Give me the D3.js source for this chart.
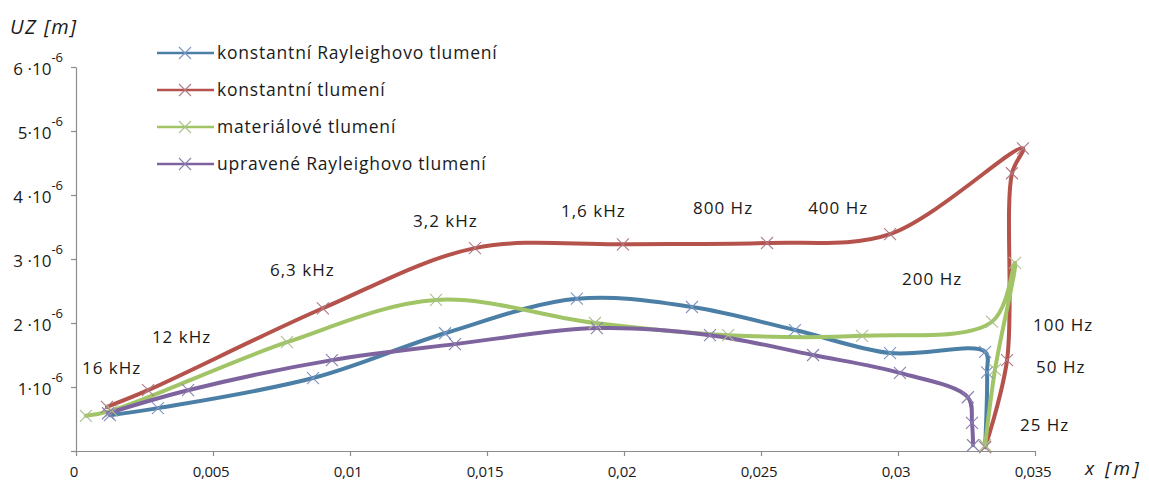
<!DOCTYPE html>
<html><head><meta charset="utf-8">
<script src="https://cdn.jsdelivr.net/npm/d3@7"></script>
<style>
html,body{margin:0;padding:0;background:#fff;}
svg text{font-family:"Open Sans",Lato,sans-serif;fill:#1a1a1a;}
</style></head>
<body><svg id="c" width="1149" height="491"></svg>
<script>
// x in metres, UZ in 1e-6 m
const seriesNames = ["konstantní Rayleighovo tlumení","konstantní tlumení","materiálové tlumení","upravené Rayleighovo tlumení"];
const rayleighX = [0.00124,0.00299,0.00865,0.01347,0.01828,0.02248,0.02624,0.02971,0.03318,0.03325,0.03318];
const rayleighY = [0.56,0.67,1.14,1.84,2.38,2.25,1.89,1.53,1.55,1.23,0.06];
const konstX = [0.00113,0.00263,0.00901,0.01456,0.01996,0.02522,0.02971,0.03456,0.03416,0.03398,0.03318];
const konstY = [0.69,0.95,2.23,3.17,3.23,3.25,3.39,4.73,4.34,1.42,0.06];
const materX = [0.00036,0.00131,0.0077,0.01314,0.01894,0.0238,0.02869,0.03343,0.03427,0.03354,0.03318];
const materY = [0.55,0.63,1.70,2.36,2.00,1.81,1.80,2.02,2.94,1.27,0.09];
const upravX = [0.00117,0.00409,0.00934,0.01383,0.01901,0.02314,0.0269,0.03007,0.03255,0.0327,0.03274];
const upravY = [0.59,0.95,1.42,1.67,1.92,1.81,1.50,1.22,0.84,0.44,0.09];
const xTicks = [0,0.005,0.01,0.015,0.02,0.025,0.03,0.035];
const xTickLabels = ["0","0,005","0,01","0,015","0,02","0,025","0,03","0,035"];
const yTicks = [1,2,3,4,5,6];
const yTickLabels = ["1·10","2 ·10","3 ·10","4 ·10","5·10","6 ·10"];
const freqLabels = ["16 kHz","12 kHz","6,3 kHz","3,2 kHz","1,6 kHz","800 Hz","400 Hz","200 Hz","100 Hz","50 Hz","25 Hz"];
const freqLabelX = [0.00022,0.00277,0.00708,0.0123,0.0177,0.02252,0.02672,0.03015,0.03493,0.03504,0.03445];
const freqLabelY = [1.30,1.78,2.83,3.59,3.75,3.80,3.80,2.69,1.97,1.31,0.41];

const lineColors = ["#4c7fa6","#b5524c","#a0c466","#7e649f"];
const markColors = ["#7a96c4","#b07a86","#a9c08a","#8a7fae"];
const series = [[rayleighX,rayleighY],[konstX,konstY],[materX,materY],[upravX,upravY]]
  .map((s,i)=>({name:seriesNames[i],pts:s[0].map((x,j)=>[x,s[1][j]])}));

const svg = d3.select("#c");
const x = d3.scaleLinear().domain([0,0.035]).range([76,1035]);
const y = d3.scaleLinear().domain([0,6]).range([451,67]);

// axes
const xa = svg.append("g").attr("transform","translate(0,451)")
  .call(d3.axisBottom(x).tickValues(xTicks).tickFormat("").tickSizeInner(5).tickSizeOuter(0));
const ya = svg.append("g").attr("transform","translate(76,0)")
  .call(d3.axisLeft(y).tickValues([0].concat(yTicks)).tickFormat("").tickSizeInner(5).tickSizeOuter(0));
[xa,ya].forEach(a=>{a.selectAll("path,line").attr("stroke","#8c8c8c").attr("stroke-width",1.2);});

svg.append("g").selectAll("text").data(xTicks).join("text")
  .attr("x",d=>x(d)-2).attr("y",477).attr("text-anchor","middle")
  .style("font-size","15px").style("letter-spacing","-0.3px").text((d,i)=>xTickLabels[i]);

const yl = svg.append("g").selectAll("text").data(yTicks).join("text")
  .attr("x",63).attr("y",d=>y(d)+8).attr("text-anchor","end")
  .style("font-size","17px");
yl.append("tspan").text((d,i)=>yTickLabels[i]);
yl.append("tspan").attr("dy",-13).style("font-size","13px").text("-6");

svg.append("text").attr("x",10).attr("y",34).style("font-size","20px").style("font-style","italic").style("letter-spacing","1.5px").text("UZ [m]");
svg.append("text").attr("x",1085).attr("y",475).style("font-size","19px").style("font-style","italic").style("letter-spacing","3px").text("x [m]");

// lines
const line = d3.line().x(d=>x(d[0])).y(d=>y(d[1])).curve(d3.curveCatmullRom.alpha(0.5));
function cross(g,cx,cy,r,col){
  g.append("path").attr("d",`M${cx-r},${cy-r}L${cx+r},${cy+r}M${cx-r},${cy+r}L${cx+r},${cy-r}`)
   .attr("stroke",col).attr("stroke-width",1.1).attr("fill","none");
}
series.forEach((s,i)=>{
  const g = svg.append("g");
  g.append("path").datum(s.pts).attr("d",line).attr("fill","none")
   .attr("stroke",lineColors[i]).attr("stroke-width",4).attr("stroke-linejoin","round").attr("stroke-linecap","round");
});
series.forEach((s,i)=>{
  const g = svg.append("g");
  s.pts.forEach(p=>cross(g,x(p[0]),y(p[1]),6,markColors[i]));
});

// frequency annotations
svg.append("g").selectAll("text").data(freqLabels).join("text")
  .attr("x",(d,i)=>x(freqLabelX[i])).attr("y",(d,i)=>y(freqLabelY[i])+6)
  .style("font-size","17px").style("letter-spacing","1px").text(d=>d);

// legend
const lg = svg.append("g");
seriesNames.forEach((n,i)=>{
  const ly = 53 + i*37;
  lg.append("line").attr("x1",157).attr("x2",214).attr("y1",ly).attr("y2",ly)
    .attr("stroke",lineColors[i]).attr("stroke-width",2.5);
  cross(lg,185,ly,6,markColors[i]);
  lg.append("text").attr("x",217).attr("y",ly+6).style("font-size","17.5px").style("letter-spacing","0.8px").text(n);
});
</script></body></html>
